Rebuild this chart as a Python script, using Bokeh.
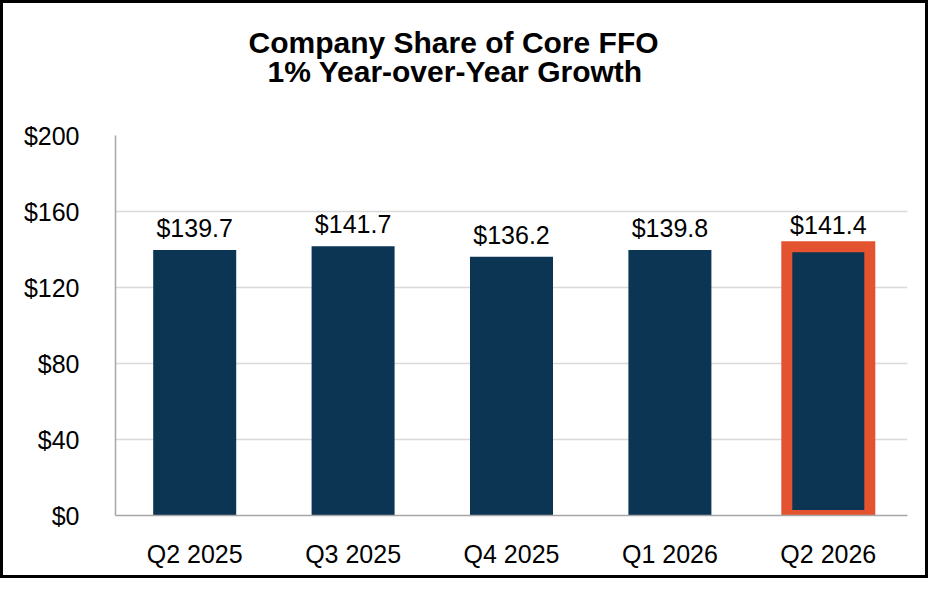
from bokeh.plotting import figure
from bokeh.models import ColumnDataSource, FixedTicker, NumeralTickFormatter, Title
from bokeh.core.properties import value
from bokeh.embed import file_html
from bokeh.resources import INLINE

categories = ["Q2 2025", "Q3 2025", "Q4 2025", "Q1 2026", "Q2 2026"]
ffo = [139.7, 141.7, 136.2, 139.8, 141.4]
value_labels = ["$139.7", "$141.7", "$136.2", "$139.8", "$141.4"]
y_ticks = [0, 40, 80, 120, 160, 200]
title_line1 = "Company Share of Core FFO"
title_line2 = "1% Year-over-Year Growth"

FONT = "Liberation Sans"
BAR = "#0B3553"
HIGHLIGHT = "#E4532F"

src = ColumnDataSource(dict(cat=categories, val=ffo, lab=value_labels))
hl = ColumnDataSource(dict(cat=categories[-1:], val=ffo[-1:]))

p = figure(x_range=categories, y_range=(0, 200), width=928, height=578,
           output_backend="svg", toolbar_location=None,
           min_border_left=112, min_border_right=24, min_border_top=132, min_border_bottom=66)
p.styles = {"border": "3px solid black"}
p.outline_line_color = None
p.title.visible = False

p.add_layout(Title(text=title_line2, align="left", text_font=FONT, text_font_size="30px",
                   text_font_style="bold", text_color="black", standoff=95,
                   offset=152), "above")
p.add_layout(Title(text=title_line1, align="left", text_font=FONT, text_font_size="30px",
                   text_font_style="bold", text_color="black", standoff=-107,
                   offset=133), "above")

p.vbar(x="cat", top="val", width=0.524, source=src, fill_color=BAR, line_color=None)
p.vbar(x="cat", top="val", width=0.524, source=hl, fill_color=BAR,
       line_color=HIGHLIGHT, line_width=11, line_join="miter")

p.text(x="cat", y="val", text="lab", source=src, text_align="center",
       text_baseline="alphabetic", y_offset=-22, text_font=value(FONT),
       text_font_size="25px", text_color="black")

p.x_range.range_padding = 0
p.xgrid.grid_line_color = None
p.ygrid.grid_line_color = "#D9D9D9"
p.ygrid.grid_line_width = 1.5
p.yaxis.ticker = FixedTicker(ticks=y_ticks)
p.yaxis.formatter = NumeralTickFormatter(format="$0")

for ax in (p.xaxis, p.yaxis):
    ax.axis_line_color = "#A6A6A6"
    ax.axis_line_width = 1.5
    ax.major_tick_line_color = None
    ax.minor_tick_line_color = None
    ax.major_label_text_font = FONT
    ax.major_label_text_font_size = "25px"
    ax.major_label_text_color = "black"
p.yaxis.major_label_standoff = 30
p.xaxis.major_label_standoff = 18

open("out.html", "w").write(file_html(p, INLINE))
